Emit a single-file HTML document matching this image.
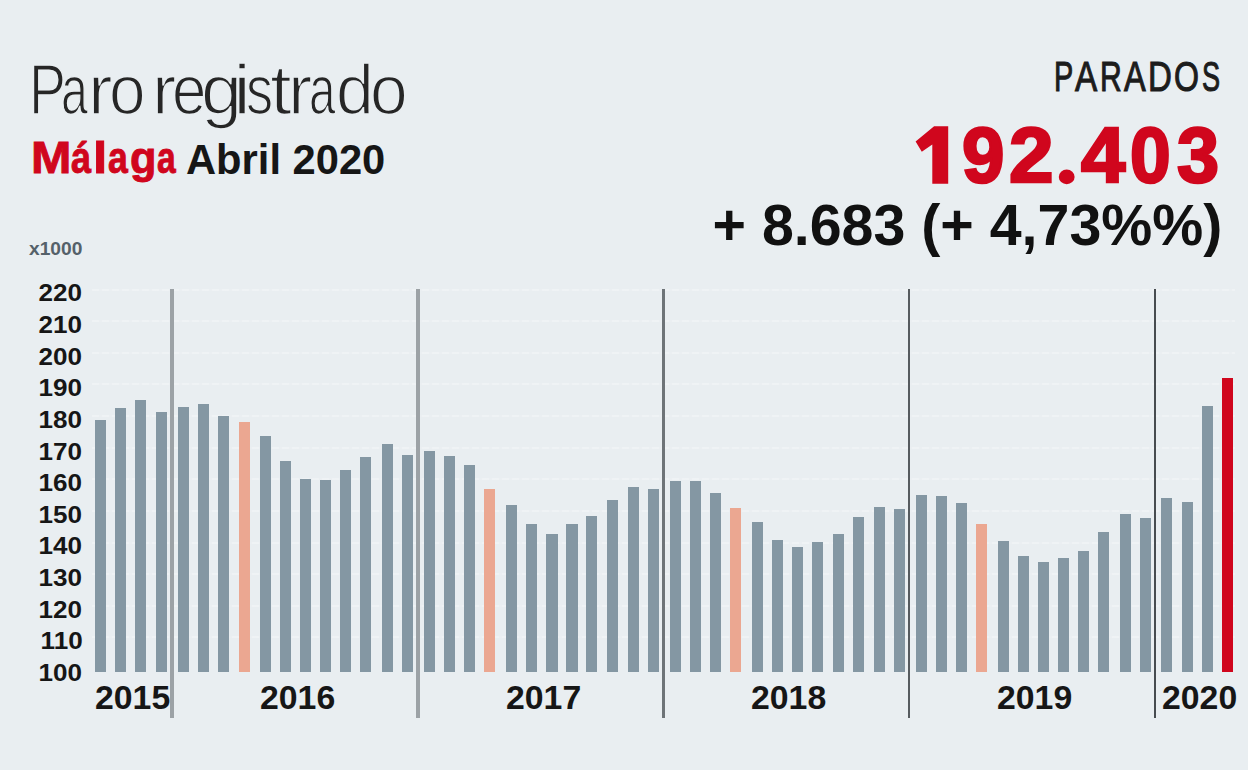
<!DOCTYPE html>
<html><head><meta charset="utf-8">
<style>
html,body{margin:0;padding:0;}
body{width:1248px;height:770px;background:#e9eef1;position:relative;overflow:hidden;font-family:"Liberation Sans",sans-serif;}
.b{position:absolute;width:11.2px;}
.s{position:absolute;top:288.5px;height:429px;}
.g{position:absolute;left:92px;width:1143px;height:2px;background:repeating-linear-gradient(90deg,rgba(255,255,255,.28) 0 7px,rgba(255,255,255,.08) 7px 10px);}
.t{position:absolute;white-space:nowrap;}
.pg{position:absolute;top:56.0px;font-size:42.5px;line-height:42.5px;color:#1c1c1c;transform-origin:0 0;-webkit-text-stroke:1.1px #1c1c1c;}
.mg{position:absolute;top:135.3px;font-size:45px;line-height:45px;font-weight:bold;color:#d0061d;transform-origin:0 0;-webkit-text-stroke:0.9px #d0061d;}
.bg{position:absolute;top:115.7px;font-size:78.2px;line-height:78.2px;font-weight:bold;color:#d0061d;transform-origin:0 0;-webkit-text-stroke:2.6px #d0061d;}
.tg{position:absolute;top:56.0px;font-size:69.5px;line-height:69.5px;color:#262626;transform-origin:0 0;-webkit-text-stroke:1.6px #e9eef1;}
.yl{position:absolute;right:1165.5px;font-weight:bold;font-size:24.6px;line-height:24.6px;color:#161616;margin-top:-3.8px;transform:scaleX(1.06);transform-origin:100% 0;}
.yr{position:absolute;top:682px;font-weight:bold;font-size:32.5px;line-height:32.5px;color:#161616;transform:scaleX(1.04);transform-origin:0 0;}
</style></head><body>
<div class="g" style="top:288.5px"></div><div class="g" style="top:320.1px"></div><div class="g" style="top:351.7px"></div><div class="g" style="top:383.4px"></div><div class="g" style="top:415.0px"></div><div class="g" style="top:446.6px"></div><div class="g" style="top:478.2px"></div><div class="g" style="top:509.8px"></div><div class="g" style="top:541.5px"></div><div class="g" style="top:573.1px"></div><div class="g" style="top:604.7px"></div><div class="g" style="top:636.3px"></div>
<div class="b" style="left:94.50px;top:420.1px;height:251.5px;background:#8497a3"></div><div class="b" style="left:114.60px;top:408.1px;height:263.5px;background:#8497a3"></div><div class="b" style="left:135.20px;top:400.4px;height:271.2px;background:#8497a3"></div><div class="b" style="left:155.60px;top:412.1px;height:259.5px;background:#8497a3"></div><div class="b" style="left:178.20px;top:406.5px;height:265.1px;background:#8497a3"></div><div class="b" style="left:198.20px;top:404.1px;height:267.5px;background:#8497a3"></div><div class="b" style="left:218.20px;top:416.1px;height:255.5px;background:#8497a3"></div><div class="b" style="left:238.70px;top:422.1px;height:249.5px;background:#eba791"></div><div class="b" style="left:259.90px;top:436.1px;height:235.5px;background:#8497a3"></div><div class="b" style="left:279.90px;top:461.1px;height:210.5px;background:#8497a3"></div><div class="b" style="left:300.00px;top:478.8px;height:192.8px;background:#8497a3"></div><div class="b" style="left:320.00px;top:480.1px;height:191.5px;background:#8497a3"></div><div class="b" style="left:340.10px;top:470.1px;height:201.5px;background:#8497a3"></div><div class="b" style="left:360.30px;top:457.1px;height:214.5px;background:#8497a3"></div><div class="b" style="left:382.10px;top:443.6px;height:228.0px;background:#8497a3"></div><div class="b" style="left:402.10px;top:454.7px;height:216.9px;background:#8497a3"></div><div class="b" style="left:424.00px;top:451.0px;height:220.6px;background:#8497a3"></div><div class="b" style="left:444.10px;top:456.1px;height:215.5px;background:#8497a3"></div><div class="b" style="left:464.10px;top:464.5px;height:207.1px;background:#8497a3"></div><div class="b" style="left:484.30px;top:488.5px;height:183.1px;background:#eba791"></div><div class="b" style="left:505.90px;top:505.1px;height:166.5px;background:#8497a3"></div><div class="b" style="left:526.30px;top:524.2px;height:147.4px;background:#8497a3"></div><div class="b" style="left:546.40px;top:533.6px;height:138.0px;background:#8497a3"></div><div class="b" style="left:566.40px;top:524.2px;height:147.4px;background:#8497a3"></div><div class="b" style="left:586.10px;top:515.7px;height:155.9px;background:#8497a3"></div><div class="b" style="left:606.50px;top:500.1px;height:171.5px;background:#8497a3"></div><div class="b" style="left:628.10px;top:486.5px;height:185.1px;background:#8497a3"></div><div class="b" style="left:648.10px;top:488.7px;height:182.9px;background:#8497a3"></div><div class="b" style="left:669.50px;top:481.1px;height:190.5px;background:#8497a3"></div><div class="b" style="left:690.00px;top:481.1px;height:190.5px;background:#8497a3"></div><div class="b" style="left:710.20px;top:492.5px;height:179.1px;background:#8497a3"></div><div class="b" style="left:730.30px;top:508.1px;height:163.5px;background:#eba791"></div><div class="b" style="left:751.90px;top:521.7px;height:149.9px;background:#8497a3"></div><div class="b" style="left:772.00px;top:540.2px;height:131.4px;background:#8497a3"></div><div class="b" style="left:792.00px;top:547.2px;height:124.4px;background:#8497a3"></div><div class="b" style="left:812.00px;top:542.1px;height:129.5px;background:#8497a3"></div><div class="b" style="left:832.50px;top:533.7px;height:137.9px;background:#8497a3"></div><div class="b" style="left:852.50px;top:517.1px;height:154.5px;background:#8497a3"></div><div class="b" style="left:874.10px;top:507.1px;height:164.5px;background:#8497a3"></div><div class="b" style="left:894.20px;top:509.1px;height:162.5px;background:#8497a3"></div><div class="b" style="left:915.80px;top:494.5px;height:177.1px;background:#8497a3"></div><div class="b" style="left:936.20px;top:495.7px;height:175.9px;background:#8497a3"></div><div class="b" style="left:956.30px;top:503.1px;height:168.5px;background:#8497a3"></div><div class="b" style="left:976.30px;top:524.1px;height:147.5px;background:#eba791"></div><div class="b" style="left:997.90px;top:540.7px;height:130.9px;background:#8497a3"></div><div class="b" style="left:1018.00px;top:556.2px;height:115.4px;background:#8497a3"></div><div class="b" style="left:1038.00px;top:562.2px;height:109.4px;background:#8497a3"></div><div class="b" style="left:1058.10px;top:558.2px;height:113.4px;background:#8497a3"></div><div class="b" style="left:1078.10px;top:551.1px;height:120.5px;background:#8497a3"></div><div class="b" style="left:1098.20px;top:532.1px;height:139.5px;background:#8497a3"></div><div class="b" style="left:1120.20px;top:514.1px;height:157.5px;background:#8497a3"></div><div class="b" style="left:1140.20px;top:518.1px;height:153.5px;background:#8497a3"></div><div class="b" style="left:1160.80px;top:498.1px;height:173.5px;background:#8497a3"></div><div class="b" style="left:1181.50px;top:502.1px;height:169.5px;background:#8497a3"></div><div class="b" style="left:1201.90px;top:406.1px;height:265.5px;background:#8497a3"></div><div class="b" style="left:1222.00px;top:378.0px;height:293.6px;background:#d0061d"></div>
<div class="s" style="left:170.20px;width:3.6px;background:#9ca2a6"></div><div class="s" style="left:416.40px;width:3.6px;background:#9ca2a6"></div><div class="s" style="left:662.20px;width:3.0px;background:#6e7478"></div><div class="s" style="left:908.20px;width:2.2px;background:#565b5f"></div><div class="s" style="left:1153.90px;width:2.2px;background:#474c50"></div>
<div class="yl" style="top:285.2px">220</div><div class="yl" style="top:316.8px">210</div><div class="yl" style="top:348.4px">200</div><div class="yl" style="top:380.1px">190</div><div class="yl" style="top:411.7px">180</div><div class="yl" style="top:443.3px">170</div><div class="yl" style="top:474.9px">160</div><div class="yl" style="top:506.5px">150</div><div class="yl" style="top:538.2px">140</div><div class="yl" style="top:569.8px">130</div><div class="yl" style="top:601.4px">120</div><div class="yl" style="top:633.0px">110</div><div class="yl" style="top:664.6px">100</div>
<div class="yr" style="left:95.2px">2015</div><div class="yr" style="left:260.4px">2016</div><div class="yr" style="left:505.6px">2017</div><div class="yr" style="left:751px">2018</div><div class="yr" style="left:997.2px">2019</div><div class="yr" style="left:1162.1px">2020</div>
<span class="tg" style="left:28.72px;transform:scaleX(0.797)">P</span><span class="tg" style="left:61.32px;transform:scaleX(0.694)">a</span><span class="tg" style="left:88.04px;transform:scaleX(1.060)">r</span><span class="tg" style="left:108.92px;transform:scaleX(0.945)">o</span><span class="tg" style="left:152.02px;transform:scaleX(1.047)">r</span><span class="tg" style="left:172.44px;transform:scaleX(0.890)">e</span><span class="tg" style="left:201.45px;transform:scaleX(1.062)">g</span><span class="tg" style="left:232.55px;transform:scaleX(1.175)">i</span><span class="tg" style="left:245.56px;transform:scaleX(0.779)">s</span><span class="tg" style="left:269.75px;transform:scaleX(1.125)">t</span><span class="tg" style="left:287.72px;transform:scaleX(1.047)">r</span><span class="tg" style="left:309.26px;transform:scaleX(0.685)">a</span><span class="tg" style="left:336.08px;transform:scaleX(0.979)">d</span><span class="tg" style="left:369.70px;transform:scaleX(0.974)">o</span>
<span class="mg" style="left:30.57px;transform:scaleX(1.078)">M</span><span class="mg" style="left:71.40px;transform:scaleX(0.804)">á</span><span class="mg" style="left:92.77px;transform:scaleX(1.143)">l</span><span class="mg" style="left:107.51px;transform:scaleX(0.792)">a</span><span class="mg" style="left:130.04px;transform:scaleX(0.962)">g</span><span class="mg" style="left:156.95px;transform:scaleX(0.748)">a</span>
<div class="t" id="abril" style="left:186px;top:138.7px;font-size:41.7px;line-height:41.7px;font-weight:bold;color:#161616;">Abril 2020</div>
<div class="t" id="x1000" style="left:29px;top:238.5px;font-size:19.2px;line-height:19.2px;font-weight:bold;color:#55616a;">x1000</div>
<span class="pg" style="left:1054.06px;transform:scaleX(0.679)">P</span><span class="pg" style="left:1074.90px;transform:scaleX(0.783)">A</span><span class="pg" style="left:1099.78px;transform:scaleX(0.708)">R</span><span class="pg" style="left:1123.60px;transform:scaleX(0.766)">A</span><span class="pg" style="left:1147.77px;transform:scaleX(0.777)">D</span><span class="pg" style="left:1173.55px;transform:scaleX(0.755)">O</span><span class="pg" style="left:1201.76px;transform:scaleX(0.638)">S</span>
<span class="bg" style="left:962.22px;transform:scaleX(0.976)">9</span><span class="bg" style="left:1008.58px;transform:scaleX(1.024)">2</span><span class="bg" style="left:1080.80px;transform:scaleX(1.020)">4</span><span class="bg" style="left:1129.53px;transform:scaleX(0.935)">0</span><span class="bg" style="left:1176.93px;transform:scaleX(0.968)">3</span>
<div class="t" id="delta" style="right:25.5px;top:197.2px;font-size:57.6px;line-height:57.6px;font-weight:bold;color:#111;transform:scaleX(0.995);transform-origin:100% 0;">+ 8.683 (+ 4,73%%)</div>
<svg style="position:absolute;left:0;top:0" width="1248" height="770"><polygon fill="#d0061d" points="948.2,126.2 934.1,126.2 915.6,141.4 921.8,151.8 932.3,144.4 932.3,183.8 948.2,183.8"/><ellipse fill="#d0061d" cx="1066.7" cy="176.9" rx="7.9" ry="7.3"/></svg>
</body></html>
